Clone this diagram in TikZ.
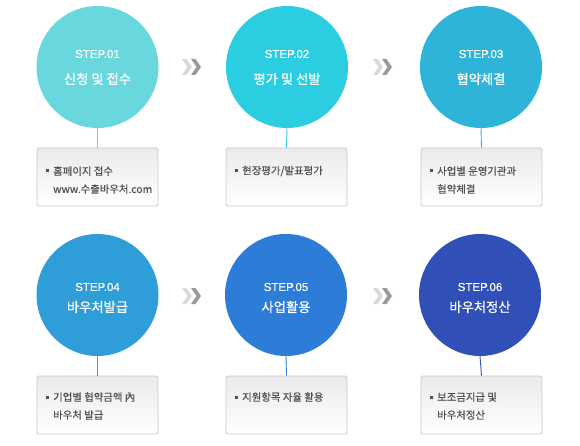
\documentclass[tikz,border=0pt]{standalone}
\usepackage{fontspec}
\setmainfont{Liberation Sans}
\newfontfamily\stepf[FakeBold=0.6]{Liberation Sans}
\newfontfamily\kr{Noto Sans CJK KR}
\newfontfamily\krb[FakeBold=0.35]{Noto Sans CJK KR}
\newfontfamily\krt[FakeBold=0.8]{Noto Sans CJK KR}
\definecolor{c1}{RGB}{104,215,222}
\definecolor{c2}{RGB}{42,206,224}
\definecolor{c3}{RGB}{46,180,216}
\definecolor{c4}{RGB}{47,158,216}
\definecolor{c5}{RGB}{44,124,216}
\definecolor{c6}{RGB}{48,80,184}
\definecolor{boxline}{RGB}{200,200,200}
\definecolor{boxtext}{RGB}{80,80,80}
\begin{document}
\begin{tikzpicture}[x=1pt,y=-1pt,
  stepcircle/.style={circle,minimum size=122pt,inner sep=0pt,draw=none},
  steptitle/.style={text=white,font=\stepf\fontsize{11.5}{11.5}\selectfont,inner sep=0pt},
  stepname/.style={text=white,font=\krt\fontsize{13.3}{13.3}\selectfont,inner sep=0pt},
  infobox/.style={rectangle,rounded corners=1.5pt,draw=boxline,line width=0.8pt,
     top color=black!8,bottom color=white,minimum width=121pt,minimum height=58pt,inner sep=0pt},
  infotext/.style={text=boxtext,font=\krb\fontsize{10.4}{10.4}\selectfont,inner sep=0pt,anchor=west},
  bulletmark/.style={rectangle,fill=boxtext,minimum size=3pt,inner sep=0pt},
  conn/.style={line width=0.9pt},
  chevlight/.style={fill=black!15,draw=none},
  chevdark/.style={fill=black!40,draw=none}
]
\useasboundingbox (0,0) rectangle (580,446);
\newcommand{\chev}[3]{%
  \fill[#3] (#1,#2-8) -- (#1+4.5,#2-8) -- (#1+10,#2) -- (#1+4.5,#2+8) -- (#1,#2+8) -- (#1+5.5,#2) -- cycle;}

% Row 1 circles
\node[stepcircle,fill=c1] (s1) at (97.5,67) {};
\node[stepcircle,fill=c2] (s2) at (287,67) {};
\node[stepcircle,fill=c3] (s3) at (481,67) {};
% Row 2 circles
\node[stepcircle,fill=c4] (s4) at (97.5,295) {};
\node[stepcircle,fill=c5] (s5) at (286,295) {};
\node[stepcircle,fill=c6] (s6) at (480,295) {};

% titles
\node[steptitle] (t1) at (97.5,54) {STEP.01};
\node[stepname] (n1) at (97.5,79) {신청 및 접수};
\node[steptitle] (t2) at (287,54) {STEP.02};
\node[stepname] (n2) at (287,79) {평가 및 선발};
\node[steptitle] (t3) at (481,54) {STEP.03};
\node[stepname] (n3) at (481,79) {협약체결};
\node[steptitle] (t4) at (97.5,287) {STEP.04};
\node[stepname] (n4) at (97.5,307) {바우처발급};
\node[steptitle] (t5) at (286,287) {STEP.05};
\node[stepname] (n5) at (286,307) {사업활용};
\node[steptitle] (t6) at (480,287) {STEP.06};
\node[stepname] (n6) at (480,307) {바우처정산};

% chevrons
\chev{182}{67}{chevlight}\chev{191}{67}{chevdark}
\chev{373}{67}{chevlight}\chev{382}{67}{chevdark}
\chev{182}{296}{chevlight}\chev{191}{296}{chevdark}
\chev{373}{296}{chevlight}\chev{382}{296}{chevdark}

% boxes
\node[infobox] (b1) at (97.5,177) {};
\node[infobox] (b2) at (286.5,177) {};
\node[infobox] (b3) at (481.5,177) {};
\node[infobox] (b4) at (97.5,405) {};
\node[infobox] (b5) at (286.5,405) {};
\node[infobox] (b6) at (481.5,405) {};

% connectors
\draw[conn,c1] (s1.south) -- (b1.north);
\draw[conn,c2] (s2.south) -- (b2.north);
\draw[conn,c3] (s3.south) -- (b3.north);
\draw[conn,c4] (s4.south) -- (b4.north);
\draw[conn,c5] (s5.south) -- (b5.north);
\draw[conn,c6] (s6.south) -- (b6.north);

% box texts
\node[bulletmark] (m1) at (47,171) {};
\node[infotext] (x1a) at (53,171) {홈페이지 접수};
\node[infotext] (x1b) at (53,189) {www.수출바우처.com};
\node[bulletmark] (m2) at (236,171) {};
\node[infotext] (x2a) at (242,171) {현장평가/발표평가};
\node[bulletmark] (m3) at (431,171) {};
\node[infotext] (x3a) at (437,171) {사업별 운영기관과};
\node[infotext] (x3b) at (437,189) {협약체결};
\node[bulletmark] (m4) at (47,397) {};
\node[infotext] (x4a) at (53,397) {기업별 협약금액 內};
\node[infotext] (x4b) at (53,415) {바우처 발급};
\node[bulletmark] (m5) at (236,397) {};
\node[infotext] (x5a) at (242,397) {지원항목 자율 활용};
\node[bulletmark] (m6) at (431,397) {};
\node[infotext] (x6a) at (437,397) {보조금지급 및};
\node[infotext] (x6b) at (437,415) {바우처정산};
\end{tikzpicture}
\end{document}
